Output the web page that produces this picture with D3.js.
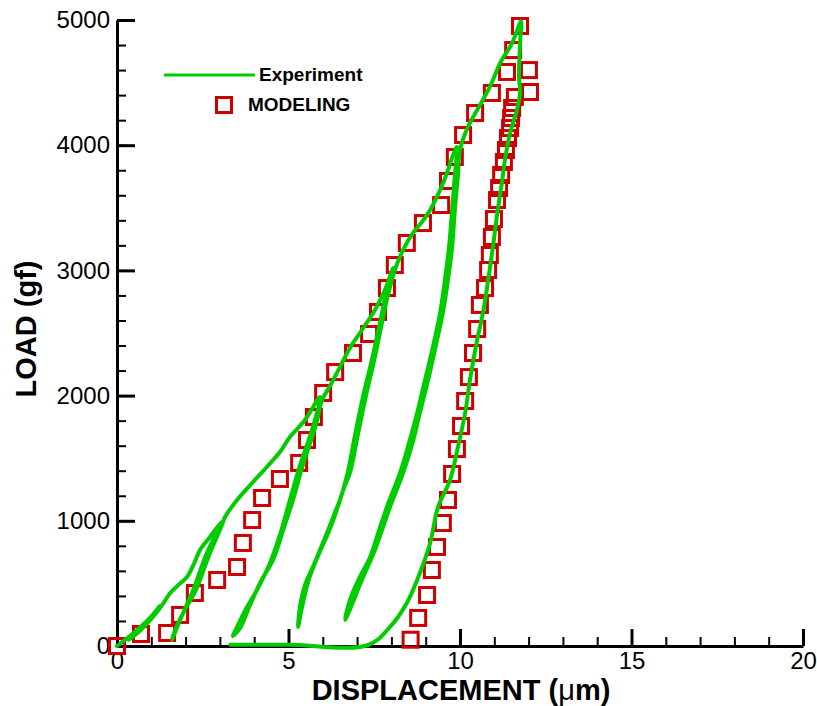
<!DOCTYPE html>
<html>
<head>
<meta charset="utf-8">
<script src="https://cdn.jsdelivr.net/npm/d3@7"></script>
<style>
  body { margin: 0; background: #fff; }
  svg text { font-family: "Liberation Sans", Arial, sans-serif; }
</style>
</head>
<body>
<div id="chart"></div>
<script>
// Experiment: displacement (um) / load (gf), one continuous cyclic path
const expDisp = [0, 0.52, 0.96, 1.25, 0.9, 0.55, 0.35, 0.7, 1.1, 1.35, 1.55, 1.8, 2.04, 2.25, 2.42, 2.71, 2.9, 3.06,
  2.62, 2.22, 1.84, 1.6,
  1.72, 2.0, 2.3, 2.71, 3.06, 3.15,
  3.5, 3.94, 4.37, 4.75, 5.04, 5.48, 5.92,
  5.71, 5.34, 5.04, 4.75, 4.46, 4.08, 3.79, 3.53, 3.38,
  3.59, 3.88, 4.2, 4.55, 4.85, 5.13, 5.42, 5.8, 5.98,
  6.21, 6.5, 6.79, 7.14, 7.52, 7.81, 8.05,
  7.84, 7.67, 7.43, 7.17, 6.94, 6.71, 6.5, 6.36, 6.12, 5.71, 5.48, 5.34, 5.28,
  5.38, 5.58, 5.8, 6.2, 6.45, 6.6, 6.8, 7.02, 7.25, 7.5, 7.73, 7.9, 8.1,
  8.34, 8.63, 8.89, 9.13, 9.42, 9.62, 9.8, 9.91,
  9.85, 9.77, 9.68, 9.56, 9.42, 9.21, 8.98, 8.75, 8.48, 8.25, 7.87, 7.67, 7.38, 7.08, 6.79, 6.65,
  6.76, 7.14, 7.52, 7.96, 8.34, 8.6, 8.83, 9.07, 9.3, 9.5, 9.65, 9.77, 9.85, 9.94, 10.0,
  10.23, 10.5, 10.87, 11.17, 11.52, 11.78,
  11.75, 11.72, 11.75, 11.66, 11.46, 11.31, 11.22, 11.08, 10.96, 10.82, 10.67, 10.5, 10.29, 10.15, 9.94, 9.71, 9.36, 9.13, 8.83, 8.45, 7.96, 7.32,
  5.0, 3.3];
const expLoad = [0, 112, 224, 320, 190, 100, 50, 130, 250, 340, 423, 490, 551, 660, 767, 871, 940, 990,
  743, 447, 208, 48,
  144, 300, 447, 743, 966, 1030,
  1166, 1302, 1430, 1549, 1669, 1805, 1989,
  1749, 1446, 1166, 887, 663, 447, 311, 168, 80,
  144, 327, 520, 687, 930, 1166, 1446, 1765, 1965,
  2077, 2228, 2380, 2524, 2684, 2843, 3019,
  2803, 2588, 2284, 1989, 1685, 1366, 1166, 1070, 903, 631, 487, 327, 152,
  290, 520, 680, 930, 1120, 1250, 1390, 1685, 1989, 2284, 2588, 2803, 3003,
  3163, 3299, 3386, 3482, 3642, 3778, 3922, 3986,
  3762, 3482, 3187, 2923, 2660, 2388, 2125, 1861, 1589, 1382, 1110, 950, 711, 551, 367, 208,
  272, 527, 767, 1110, 1382, 1605, 1861, 2125, 2404, 2660, 2923, 3187, 3482, 3762, 3962,
  4145, 4281, 4465, 4656, 4816, 4990,
  4816, 4544, 4417, 4281, 4097, 3882, 3698, 3442, 3187, 2923, 2660, 2444, 2125, 1861, 1589, 1326, 1110, 823, 583, 343, 152, 8,
  10, 10];

// Modeling: loading then unloading
const modDisp = [0, 0.7, 1.46, 1.84, 2.27, 2.92, 3.5, 3.67, 3.94, 4.23, 4.75, 5.31, 5.54, 5.74, 6.01, 6.36, 6.88, 7.35,
  7.61, 7.87, 8.1, 8.45, 8.92, 9.45, 9.65, 9.85, 10.09, 10.44, 10.93, 11.37, 11.55, 11.75,
  12.01, 12.04, 11.6, 11.52, 11.49, 11.46, 11.4, 11.34, 11.28, 11.2, 11.14, 11.08, 10.99, 10.93, 10.87, 10.82,
  10.73, 10.58, 10.5, 10.38, 10.26, 10.15, 10.03, 9.91, 9.77, 9.65, 9.5, 9.33, 9.18, 9.04, 8.78, 8.56];
const modLoad = [0, 96, 104, 248, 423, 527, 631, 823, 1006, 1182, 1334, 1462, 1645, 1829, 2021, 2188, 2340, 2492,
  2668, 2859, 3043, 3219, 3378, 3522, 3714, 3906, 4081, 4257, 4417, 4585, 4760, 4952,
  4600, 4425, 4385, 4297, 4217, 4137, 4057, 3962, 3866, 3762, 3658, 3562, 3410, 3267, 3123, 3003,
  2859, 2724, 2532, 2340, 2148, 1957, 1757, 1573, 1374, 1166, 982, 791, 607, 407, 224, 50];

const xMajor = [0, 5, 10, 15, 20];
const yMajor = [0, 1000, 2000, 3000, 4000, 5000];

const width = 817, height = 706;
const green = '#00cc00', red = '#cc0000';

const svg = d3.select('#chart')
  .append('svg')
  .attr('width', width)
  .attr('height', height);

const xScale = d3.scaleLinear().domain([0, 20]).range([117, 803]);
const yScale = d3.scaleLinear().domain([0, 5000]).range([646, 20]);

// axes: minor ticks first, then major with labels
svg.append('g')
  .attr('transform', 'translate(0,646)')
  .call(d3.axisBottom(xScale).tickValues(d3.range(0, 21, 1)).tickSize(-9).tickSizeOuter(0).tickFormat(''))
  .call(g => g.selectAll('line').attr('stroke-width', 2))
  .call(g => g.select('.domain').remove());

svg.append('g')
  .attr('transform', 'translate(117,0)')
  .call(d3.axisLeft(yScale).tickValues(d3.range(0, 5001, 200)).tickSize(-9).tickSizeOuter(0).tickFormat(''))
  .call(g => g.selectAll('line').attr('stroke-width', 2))
  .call(g => g.select('.domain').remove());

const xAxisGroup = svg.append('g')
  .attr('transform', 'translate(0,646)')
  .call(d3.axisBottom(xScale).tickValues(xMajor).tickSize(-17).tickSizeOuter(0).tickPadding(6).tickFormat(d3.format('d')))
  .call(g => g.selectAll('line').attr('stroke-width', 3))
  .call(g => g.select('.domain').attr('stroke-width', 3));
xAxisGroup.selectAll('text')
  .style('font-size', '24px')
  .attr('fill', '#000');

const yAxisGroup = svg.append('g')
  .attr('transform', 'translate(117,0)')
  .call(d3.axisLeft(yScale).tickValues(yMajor).tickSize(-18).tickSizeOuter(0).tickPadding(7).tickFormat(d3.format('d')))
  .call(g => g.selectAll('line').attr('stroke-width', 3))
  .call(g => g.select('.domain').attr('stroke-width', 3));
yAxisGroup.selectAll('text')
  .style('font-size', '24px')
  .attr('fill', '#000');

// modeling squares
const sq = 15;
svg.append('g')
  .selectAll('rect')
  .data(modDisp.map((d, i) => [d, modLoad[i]]))
  .join('rect')
  .attr('x', d => xScale(d[0]) - sq / 2)
  .attr('y', d => yScale(d[1]) - sq / 2)
  .attr('width', sq)
  .attr('height', sq)
  .attr('fill', 'none')
  .attr('stroke', red)
  .attr('stroke-width', 3);

// experiment line
const line = d3.line()
  .x(d => xScale(d[0]))
  .y(d => yScale(d[1]))
  .curve(d3.curveCatmullRom.alpha(0.5));

svg.append('path')
  .datum(expDisp.map((d, i) => [d, expLoad[i]]))
  .attr('d', line)
  .attr('fill', 'none')
  .attr('stroke', green)
  .attr('stroke-width', 4)
  .attr('stroke-linejoin', 'round')
  .attr('stroke-linecap', 'round');

// axis titles
svg.append('text')
  .attr('x', 461)
  .attr('y', 700)
  .attr('text-anchor', 'middle')
  .style('font-size', '29px')
  .style('font-weight', 'bold')
  .text('DISPLACEMENT (')
  .call(t => t.append('tspan').style('font-weight', 'normal').text('μ'))
  .call(t => t.append('tspan').text('m)'));

svg.append('text')
  .attr('transform', 'translate(36,329) rotate(-90)')
  .attr('text-anchor', 'middle')
  .style('font-size', '29px')
  .style('font-weight', 'bold')
  .text('LOAD (gf)');

// legend
const legend = svg.append('g');
legend.append('line')
  .attr('x1', 164).attr('x2', 255)
  .attr('y1', 75).attr('y2', 75)
  .attr('stroke', green)
  .attr('stroke-width', 3);
legend.append('text')
  .attr('x', 259).attr('y', 81)
  .style('font-size', '19px')
  .style('font-weight', 'bold')
  .text('Experiment');
legend.append('rect')
  .attr('x', 224 - sq / 2).attr('y', 105 - sq / 2)
  .attr('width', sq).attr('height', sq)
  .attr('fill', 'none')
  .attr('stroke', red)
  .attr('stroke-width', 3);
legend.append('text')
  .attr('x', 248).attr('y', 111)
  .style('font-size', '19px')
  .style('font-weight', 'bold')
  .text('MODELING');
</script>
</body>
</html>
